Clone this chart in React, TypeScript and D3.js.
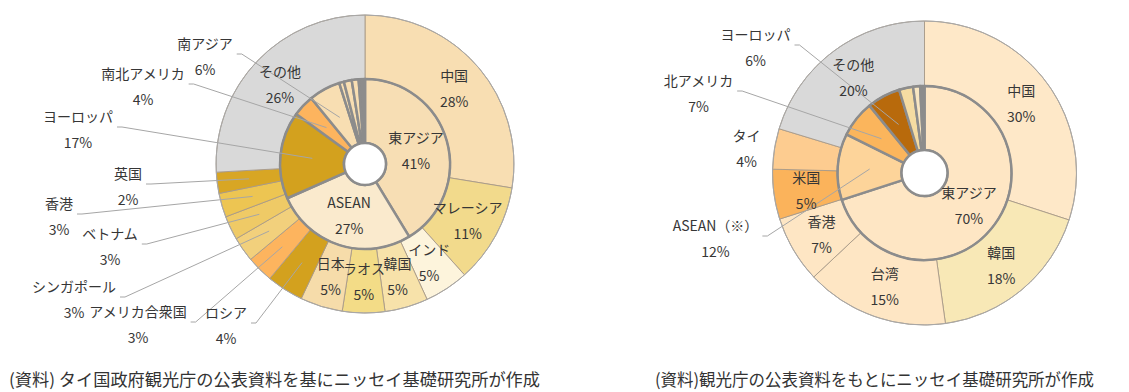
import React, { useEffect, useRef } from "react";
import * as d3 from "d3";

// 左: タイを訪れた外国人旅行者（外側=国・地域、内側=地域）
const thaiCountries = ["中国", "マレーシア", "インド", "韓国", "ラオス", "日本", "ロシア", "アメリカ合衆国", "シンガポール", "ベトナム", "香港", "英国", "その他"];
const thaiCountryShares = [27.6, 10.8, 4.8, 4.7, 4.6, 4.6, 4.0, 2.9, 2.7, 2.6, 2.6, 2.3, 25.9];
const thaiRegions = ["東アジア", "ASEAN", "ヨーロッパ", "南北アメリカ", "南アジア", "", "", "", ""];
const thaiRegionShares = [41.3, 27.1, 16.6, 4.1, 6.0, 0.9, 1.5, 1.3, 1.2];

// 右: 日本を訪れた外国人旅行者
const japanCountries = ["中国", "韓国", "台湾", "香港", "米国", "タイ", "その他"];
const japanCountryShares = [30, 17.8, 15.2, 7.1, 5.3, 4.3, 20.3];
const japanRegions = ["東アジア", "ASEAN（※）", "北アメリカ", "ヨーロッパ", "", "", ""];
const japanRegionShares = [70, 12.3, 6.8, 6.2, 2.6, 1.3, 0.8];

const sources = [
    "(資料) タイ国政府観光庁の公表資料を基にニッセイ基礎研究所が作成",
    "(資料)観光庁の公表資料をもとにニッセイ基礎研究所が作成",
];

// colours
const thaiCountryColors = ["#F8DEB2", "#F2DA8C", "#FDF4DC", "#F7E2AA", "#F3DC87", "#F6DCAA", "#D3A11E", "#FDB45E", "#F2D07C", "#EFCA66", "#EDC552", "#D8A624", "#D9D9D9"];
const thaiRegionColors = ["#F7DEB4", "#FAEACD", "#D3A11E", "#FDB45E", "#F8DEB2", "#F8DEB2", "#F8DEB2", "#F8DEB2", "#8C8C8C"];
const japanCountryColors = ["#FEE8C8", "#F8E8B6", "#FEE6C4", "#FEE6C4", "#FBB35B", "#FDCC90", "#D9D9D9"];
const japanRegionColors = ["#FEE6C4", "#FDD49A", "#FBB55C", "#B86A0C", "#F5DCA2", "#F8E6C2", "#8C8C8C"];

// labels that Excel put outside the ring: offset of the label block from the centre, leader line or not
const thaiPlaced: Record<string, [number, number, boolean]> = {
    "南アジア": [-160, -108, true],
    "南北アメリカ": [-222, -78, true],
    "ヨーロッパ": [-287, -35, true],
    "英国": [-237, 22, true],
    "香港": [-306, 52, true],
    "ベトナム": [-255, 82, true],
    "シンガポール": [-291, 135, true],
    "アメリカ合衆国": [-227, 160, true],
    "ロシア": [-139, 161, true],
};
const japanPlaced: Record<string, [number, number, boolean]> = {
    "ヨーロッパ": [-169, -126, true],
    "北アメリカ": [-226, -80, true],
    "タイ": [-178, -25, false],
    "ASEAN（※）": [-209, 65, true],
};

const font = '"Noto Sans CJK JP", "Noto Sans", sans-serif';
const textColor = "#363636";

type Slice = { name: string; value: number; color: string };

function toSlices(names: string[], values: number[], colors: string[]): Slice[] {
    return names.map((n, i) => ({ name: n, value: values[i], color: colors[i] }));
}

function drawDonut(svg: any, cx: number, cy: number, rHole: number, rMid: number, rOuter: number,
                   outer: Slice[], inner: Slice[], placed: Record<string, [number, number, boolean]>) {
    const g = svg.append("g").attr("transform", `translate(${cx},${cy})`);
    const pie = d3.pie<Slice>().sort(null).value(d => d.value);

    const outerArc = d3.arc<d3.PieArcDatum<Slice>>().innerRadius(rMid).outerRadius(rOuter);
    const innerArc = d3.arc<d3.PieArcDatum<Slice>>().innerRadius(rHole).outerRadius(rMid);

    const outerData = pie(outer);
    const innerData = pie(inner);

    g.selectAll("path.outer")
        .data(outerData)
        .enter()
        .append("path")
        .attr("class", "outer")
        .attr("d", outerArc)
        .attr("fill", d => d.data.color)
        .attr("stroke", "#A89A88")
        .attr("stroke-width", 0.9);

    g.append("circle").attr("r", rOuter).attr("fill", "none").attr("stroke", "#A8A8A8").attr("stroke-width", 1);

    g.selectAll("path.inner")
        .data(innerData)
        .enter()
        .append("path")
        .attr("class", "inner")
        .attr("d", innerArc)
        .attr("fill", d => d.data.color)
        .attr("stroke", "#8C8C8C")
        .attr("stroke-width", 2.5)
        .attr("stroke-linejoin", "round");

    g.append("circle").attr("r", rMid).attr("fill", "none").attr("stroke", "#8C8C8C").attr("stroke-width", 1.8);
    g.append("circle").attr("r", rHole).attr("fill", "#fff").attr("stroke", "#8C8C8C").attr("stroke-width", 2.5);

    // leader lines sit above the arcs, labels above the lines
    const lines = g.append("g");
    const labels = g.append("g");

    const addLabel = (x: number, y: number, name: string, pct: string) => {
        const a = labels.append("text")
            .attr("x", x).attr("y", y - 13)
            .attr("text-anchor", "middle")
            .attr("dominant-baseline", "central")
            .style("font-family", font).style("font-size", "14px").style("fill", textColor)
            .text(name);
        const b = labels.append("text")
            .attr("x", x).attr("y", y + 13)
            .attr("text-anchor", "middle")
            .attr("dominant-baseline", "central")
            .style("font-family", font).style("font-size", "14px").style("fill", textColor)
            .text(pct);
        return Math.max(a.node().getComputedTextLength(), b.node().getComputedTextLength());
    };

    const handle = (data: d3.PieArcDatum<Slice>[], arc: any) => {
        data.forEach(d => {
            if (!d.data.name) return;
            const pct = Math.round(d.data.value) + "%";
            const [mx, my] = arc.centroid(d);
            const p = placed[d.data.name];
            if (!p) {
                addLabel(mx, my, d.data.name, pct);
                return;
            }
            const w = addLabel(p[0], p[1], d.data.name, pct);
            if (p[2]) {
                const sx = p[0] + w / 2 + 4;
                const sy = p[1] - 2;
                lines.append("path")
                    .attr("d", d3.line()([[sx, sy], [sx + 5, sy], [mx, my]]))
                    .attr("fill", "none")
                    .attr("stroke", "#A6A6A6")
                    .attr("stroke-width", 1);
            }
        });
    };

    handle(outerData, outerArc);
    handle(innerData, innerArc);
}

export default function App() {
    const ref = useRef<SVGSVGElement>(null);

    useEffect(() => {
        const svg = d3.select(ref.current);
        svg.selectAll("*").remove();

        svg.append("rect").attr("width", 1129).attr("height", 392).attr("fill", "#fff");

        drawDonut(svg, 365, 164, 21, 85, 149,
            toSlices(thaiCountries, thaiCountryShares, thaiCountryColors),
            toSlices(thaiRegions, thaiRegionShares, thaiRegionColors),
            thaiPlaced);

        drawDonut(svg, 924.5, 173, 23, 87, 152,
            toSlices(japanCountries, japanCountryShares, japanCountryColors),
            toSlices(japanRegions, japanRegionShares, japanRegionColors),
            japanPlaced);

        // source notes
        svg.append("text")
            .attr("x", 9).attr("y", 378)
            .attr("dominant-baseline", "central")
            .attr("textLength", 531).attr("lengthAdjust", "spacingAndGlyphs")
            .style("font-family", font).style("font-size", "17px").style("fill", "#333")
            .text(sources[0]);
        svg.append("text")
            .attr("x", 655).attr("y", 378)
            .attr("dominant-baseline", "central")
            .attr("textLength", 439).attr("lengthAdjust", "spacingAndGlyphs")
            .style("font-family", font).style("font-size", "17px").style("fill", "#333")
            .text(sources[1]);
    }, []);

    return (
        <svg ref={ref} width={1129} height={392}
             style={{ position: "absolute", left: 0, top: 0, display: "block" }} />
    );
}
